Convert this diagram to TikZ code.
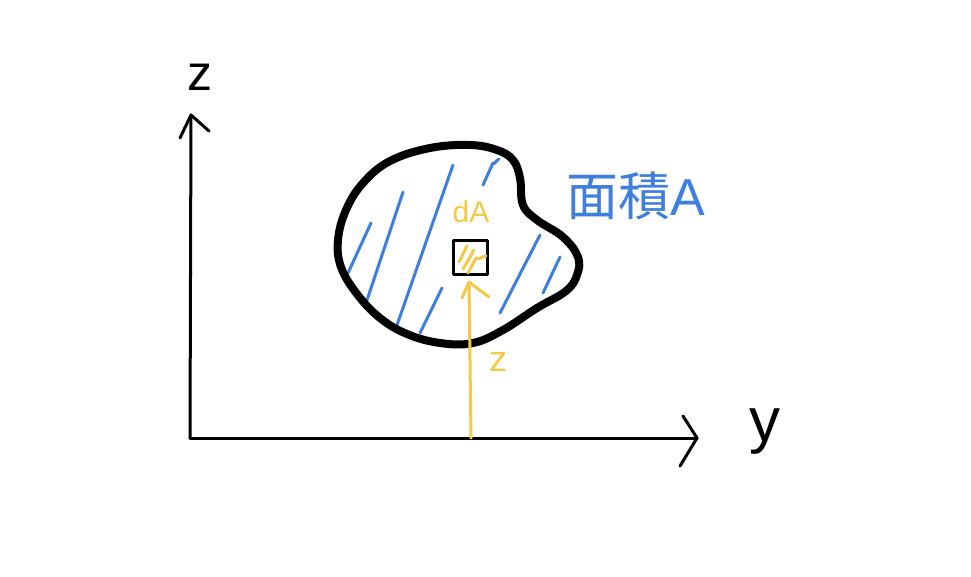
\documentclass[tikz,border=0pt]{standalone}
\usepackage{fontspec}
\setmainfont{Liberation Sans}
\newfontfamily\cjk{Noto Sans CJK JP}
\definecolor{hblue}{RGB}{62,126,222}
\definecolor{hyel}{RGB}{243,201,72}
\begin{document}
\begin{tikzpicture}[x=1pt,y=-1pt,line cap=round,line join=round,
  axis/.style={draw=black,line width=3pt},
  blob/.style={draw=black,line width=8pt},
  hatch/.style={draw=hblue,line width=3pt},
  yel/.style={draw=hyel,line width=3pt},
  lab/.style={inner sep=0pt,font=\fontsize{50}{50}\selectfont}]
\useasboundingbox[fill=white] (0,0) rectangle (971,576);
% axes
\coordinate (O) at (190,438);
\coordinate (Ztop) at (191,115);
\coordinate (Yend) at (697,438);
\draw[axis] (O) -- (Ztop);
\draw[axis] (O) -- (Yend);
\draw[axis] (180,138) -- (Ztop) -- (209,131);
\draw[axis] (683,416) -- (Yend) -- (680,466);
\node[lab] (zlab) at (200,77) {z};
\node[lab,font=\fontsize{62}{62}\selectfont] (ylab) at (765,432) {y};
% blue hatching
\draw[hatch] (348,273) -- (371,223);
\draw[hatch] (367,300) -- (403,192);
\draw[hatch] (397,325) -- (453,165);
\draw[hatch] (420,333) -- (442,288);
\draw[hatch] (483,185) -- (493,163) to[out=-70,in=200] (499,159);
\draw[hatch] (500,313) -- (540,235);
\draw[hatch] (543,293) -- (560,257);
% blob outline
\draw[blob] plot[smooth cycle,tension=0.65] coordinates {
  (338,240) (346,210) (363,183) (390,161) (430,148) (470,145) (497,150)
  (513,160) (520,178) (523,205) (537,220) (563,237) (578,257) (577,275)
  (566,291) (537,308) (503,330) (473,343) (440,343) (407,334) (380,318)
  (357,294) (341,267)};
% yellow element
\coordinate (Ybase) at (471,438);
\node[draw=black,line width=3pt,minimum size=34pt,inner sep=0pt] (dA) at (470,257) {};
\draw[yel] (Ybase) -- (469,283);
\draw[yel] (462,298) -- (469,282) -- (489,297);
\draw[yel] (459,262) -- (467,246);
\draw[yel] (463,269) -- (474,250);
\draw[yel] (468,273) -- (476,258) to[out=-40,in=180] (486,256);
\node[lab,text=hyel,font=\fontsize{30}{30}\selectfont] (dAlab) at (471,212) {dA};
\node[lab,text=hyel,font=\fontsize{36}{36}\selectfont] (zy) at (498,362) {z};
% area label
\node[lab,text=hblue,font=\fontsize{52}{52}\selectfont,anchor=west] (area) at (566,196) {{\cjk 面積}A};
\end{tikzpicture}
\end{document}
